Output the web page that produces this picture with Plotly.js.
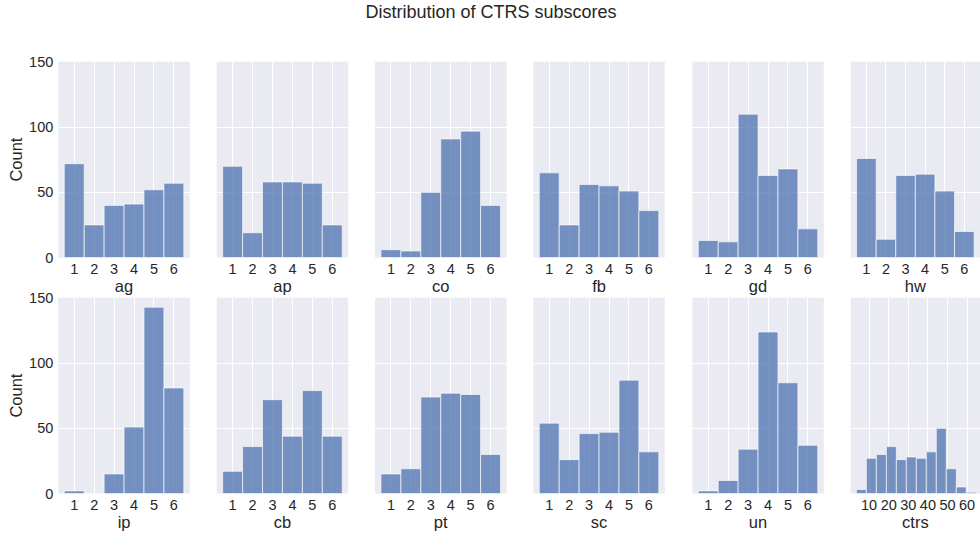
<!DOCTYPE html>
<html>
<head>
<meta charset="utf-8">
<script src="https://cdn.plot.ly/plotly-3.0.1.min.js"></script>
<style>html,body{margin:0;padding:0;background:#fff;}#chart{width:980px;height:535px;}</style>
</head>
<body>
<div id="chart"></div>
<script>
// Subscore names, in panel order (row 1 then row 2)
const subscores = ["ag", "ap", "co", "fb", "gd", "hw", "ip", "cb", "pt", "sc", "un"];
// Score categories 1..6
const scoreBins = [1, 2, 3, 4, 5, 6];
// Counts per score for each subscore
const ag = [72, 25, 40, 41, 52, 57];
const ap = [70, 19, 58, 58, 57, 25];
const co = [6, 5, 50, 91, 97, 40];
const fb = [65, 25, 56, 55, 51, 36];
const gd = [13, 12, 110, 63, 68, 22];
const hw = [76, 14, 63, 64, 51, 20];
const ip = [2, 0, 15, 51, 143, 81];
const cb = [17, 36, 72, 44, 79, 44];
const pt = [15, 19, 74, 77, 76, 30];
const sc = [54, 26, 46, 47, 87, 32];
const un = [2, 10, 34, 124, 85, 37];
// Total CTRS score histogram (12 bins)
const ctrsBinEdges = [3.5, 8.6, 13.7, 18.8, 23.9, 29.0, 34.1, 39.2, 44.3, 49.4, 54.5, 59.6, 64.7];
const ctrsCounts = [3, 27, 30, 36, 26, 28, 27, 32, 50, 19, 5, 1];
const ctrsTicks = [10, 20, 30, 40, 50, 60];
const countTicks = [0, 50, 100, 150];

const seriesMap = {ag, ap, co, fb, gd, hw, ip, cb, pt, sc, un};

const W = 980, H = 535;
const barColor = "rgba(76,114,176,0.75)";
const textColor = "#262626";
const fontFam = "'Liberation Sans', Arial, sans-serif";

const colLeft = [58.3, 216.7, 375, 533.3, 692.3, 850.7];
const colW = 131.5;
const rowY = [[61.7, 257.5], [297.7, 493.5]];

const traces = [];
const layout = {
  width: W, height: H,
  margin: {l: 0, r: 0, t: 0, b: 0},
  paper_bgcolor: "#ffffff",
  plot_bgcolor: "#EAEAF2",
  showlegend: false,
  font: {family: fontFam, color: textColor, size: 14},
  title: {text: "Distribution of CTRS subscores", x: 491 / W, xanchor: "center", y: 1 - 12/H, yanchor: "middle",
          font: {size: 18, color: textColor, family: fontFam}},
  bargap: 0
};

const names = subscores.concat(["ctrs"]);
names.forEach((name, i) => {
  const r = Math.floor(i / 6), c = i % 6;
  const k = i + 1;
  const xa = "x" + (k === 1 ? "" : k), ya = "y" + (k === 1 ? "" : k);
  const xkey = "xaxis" + (k === 1 ? "" : k), ykey = "yaxis" + (k === 1 ? "" : k);
  let x, y, w, xrange, tickvals;
  if (name === "ctrs") {
    x = ctrsCounts.map((_, j) => (ctrsBinEdges[j] + ctrsBinEdges[j + 1]) / 2);
    w = ctrsCounts.map((_, j) => ctrsBinEdges[j + 1] - ctrsBinEdges[j]);
    y = ctrsCounts;
    xrange = [0.6, 66.6];
    tickvals = ctrsTicks;
  } else {
    x = scoreBins;
    w = scoreBins.map(() => 1);
    y = seriesMap[name];
    xrange = [0.2, 6.8];
    tickvals = scoreBins;
  }
  traces.push({
    type: "bar", x: x, y: y, width: w, xaxis: xa, yaxis: ya,
    marker: {color: barColor, line: {color: "rgba(255,255,255,0.8)", width: 0.8}},
    hoverinfo: "x+y"
  });
  const left = colLeft[c];
  const right = Math.min(left + colW, W);
  layout[xkey] = {
    domain: [left / W, right / W],
    range: xrange, anchor: ya,
    tickmode: "array", tickvals: tickvals,
    ticks: "", showline: false, zeroline: false,
    showgrid: true, gridcolor: "#ffffff", gridwidth: 1,
    tickfont: {size: 14.5, color: textColor},
    ticklabelstandoff: 1,
    title: {text: name, font: {size: 16.5, color: textColor}, standoff: 2},
    fixedrange: true
  };
  layout[ykey] = {
    domain: [1 - rowY[r][1] / H, 1 - rowY[r][0] / H],
    range: [0, 150.3], anchor: xa,
    tickmode: "array", tickvals: countTicks,
    ticks: "", showline: false, zeroline: false,
    showgrid: true, gridcolor: "#ffffff", gridwidth: 1,
    showticklabels: c === 0,
    ticklabelstandoff: 4,
    tickfont: {size: 14.5, color: textColor},
    title: c === 0 ? {text: "Count", font: {size: 16.5, color: textColor}, standoff: 2} : {text: ""},
    fixedrange: true
  };
});

Plotly.newPlot("chart", traces, layout, {displayModeBar: false, staticPlot: true});
</script>
</body>
</html>
